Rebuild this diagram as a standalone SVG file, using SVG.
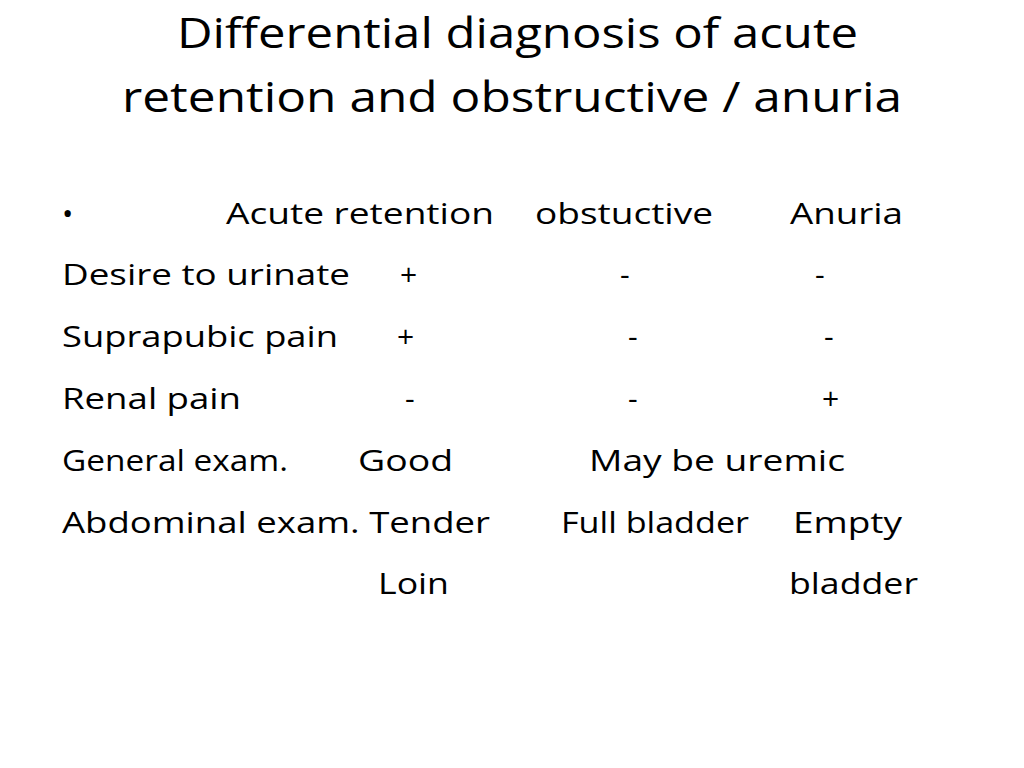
<svg xmlns="http://www.w3.org/2000/svg" width="1024" height="768" viewBox="0 0 1024 768">
<style>
text{font-family:"Open Sans","Liberation Sans",sans-serif;fill:#000}
.t{font-size:42px}
.b{font-size:30px}
</style>
<rect width="1024" height="768" fill="#fff"/>
<text class="t" x="177" y="48" textLength="681" lengthAdjust="spacingAndGlyphs">Differential diagnosis of acute</text>
<text class="t" x="122" y="112" textLength="780" lengthAdjust="spacingAndGlyphs">retention and obstructive / anuria</text>
<g class="b">
<text class="b" x="62" y="224">•</text>
<text class="b" x="226" y="224" textLength="268" lengthAdjust="spacingAndGlyphs">Acute retention</text>
<text class="b" x="535" y="224" textLength="178" lengthAdjust="spacingAndGlyphs">obstuctive</text>
<text class="b" x="790" y="224" textLength="113" lengthAdjust="spacingAndGlyphs">Anuria</text>
<text class="b" x="62" y="285" textLength="288" lengthAdjust="spacingAndGlyphs">Desire to urinate</text>
<text class="b" x="400" y="285">+</text><text class="b" x="620" y="285">-</text><text class="b" x="815" y="285">-</text>
<text class="b" x="62" y="347" textLength="276" lengthAdjust="spacingAndGlyphs">Suprapubic pain</text>
<text class="b" x="397" y="347">+</text><text class="b" x="628" y="347">-</text><text class="b" x="824" y="347">-</text>
<text class="b" x="62" y="409" textLength="179" lengthAdjust="spacingAndGlyphs">Renal pain</text>
<text class="b" x="405" y="409">-</text><text class="b" x="628" y="409">-</text><text class="b" x="822" y="409">+</text>
<text class="b" x="62" y="471" textLength="226" lengthAdjust="spacingAndGlyphs">General exam.</text>
<text class="b" x="358" y="471" textLength="95" lengthAdjust="spacingAndGlyphs">Good</text>
<text class="b" x="589" y="471" textLength="256" lengthAdjust="spacingAndGlyphs">May be uremic</text>
<text class="b" x="62" y="533" textLength="428" lengthAdjust="spacingAndGlyphs">Abdominal exam. Tender</text>
<text class="b" x="561" y="533" textLength="188" lengthAdjust="spacingAndGlyphs">Full bladder</text>
<text class="b" x="793" y="533" textLength="109" lengthAdjust="spacingAndGlyphs">Empty</text>
<text class="b" x="378" y="594" textLength="71" lengthAdjust="spacingAndGlyphs">Loin</text>
<text class="b" x="789" y="594" textLength="129" lengthAdjust="spacingAndGlyphs">bladder</text>
</g>
</svg>
